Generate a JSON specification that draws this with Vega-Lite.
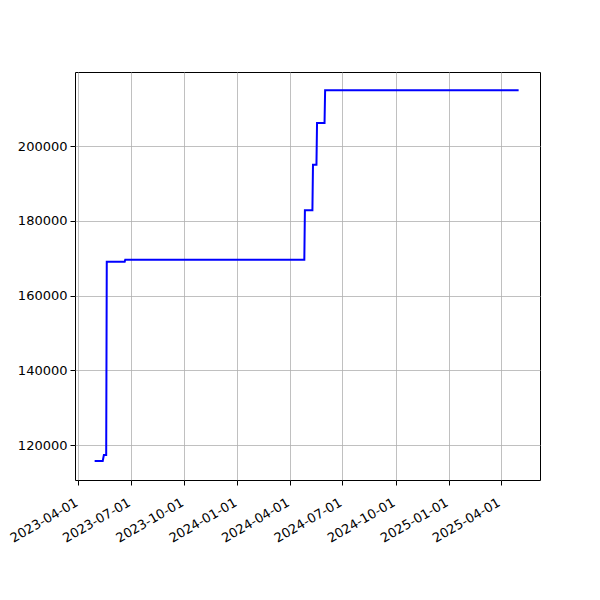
{
  "$schema": "https://vega.github.io/schema/vega-lite/v6.json",
  "width": 465,
  "height": 408,
  "autosize": "none",
  "padding": {"left": 75, "top": 72, "right": 60, "bottom": 120},
  "background": "white",
  "config": {
    "view": {"stroke": "black", "strokeWidth": 1},
    "axis": {
      "labelFont": "DejaVu Sans",
      "labelFontSize": 13,
      "labelColor": "black",
      "gridColor": "#b0b0b0",
      "gridWidth": 0.8,
      "tickColor": "black",
      "tickSize": 5,
      "domain": false,
      "title": null
    }
  },
  "data": {
    "values": [
      {"date": "2023-04-29", "value": 115720},
      {"date": "2023-05-13", "value": 115720},
      {"date": "2023-05-15", "value": 117300},
      {"date": "2023-05-19", "value": 117300},
      {"date": "2023-05-20", "value": 169000},
      {"date": "2023-06-20", "value": 169000},
      {"date": "2023-06-21", "value": 169570},
      {"date": "2024-04-26", "value": 169570},
      {"date": "2024-04-27", "value": 182800},
      {"date": "2024-05-10", "value": 182800},
      {"date": "2024-05-11", "value": 195000},
      {"date": "2024-05-17", "value": 195000},
      {"date": "2024-05-18", "value": 206150},
      {"date": "2024-05-31", "value": 206150},
      {"date": "2024-06-01", "value": 214900},
      {"date": "2025-05-02", "value": 214900}
    ]
  },
  "mark": {"type": "line", "color": "#0000ff", "strokeWidth": 2, "interpolate": "linear"},
  "encoding": {
    "x": {
      "field": "date",
      "type": "temporal",
      "scale": {
        "type": "utc",
        "domain": [
          {"year": 2023, "month": 3, "date": 26, "utc": true},
          {"year": 2025, "month": 6, "date": 8, "utc": true}
        ]
      },
      "axis": {
        "values": [
          {"year": 2023, "month": 4, "date": 1, "utc": true},
          {"year": 2023, "month": 7, "date": 1, "utc": true},
          {"year": 2023, "month": 10, "date": 1, "utc": true},
          {"year": 2024, "month": 1, "date": 1, "utc": true},
          {"year": 2024, "month": 4, "date": 1, "utc": true},
          {"year": 2024, "month": 7, "date": 1, "utc": true},
          {"year": 2024, "month": 10, "date": 1, "utc": true},
          {"year": 2025, "month": 1, "date": 1, "utc": true},
          {"year": 2025, "month": 4, "date": 1, "utc": true}
        ],
        "labelExpr": "utcFormat(datum.value, '%Y-%m-%d')",
        "labelAngle": -30,
        "labelAlign": "right",
        "labelBaseline": "top",
        "labelPadding": 11,
        "labelOffset": -5,
        "labelOverlap": false,
        "labelFlush": false
      }
    },
    "y": {
      "field": "value",
      "type": "quantitative",
      "scale": {"domain": [110636, 219800], "nice": false, "zero": false},
      "axis": {
        "values": [120000, 140000, 160000, 180000, 200000],
        "format": "d",
        "labelPadding": 3
      }
    }
  }
}
